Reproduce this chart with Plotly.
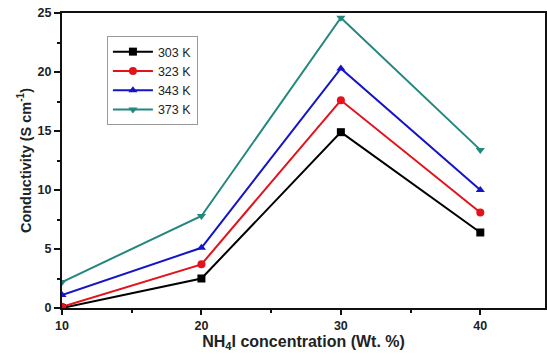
import plotly.graph_objects as go

conc = [10, 20, 30, 40]
s303 = [0.0, 2.5, 14.9, 6.4]
s323 = [0.1, 3.7, 17.6, 8.1]
s343 = [1.1, 5.1, 20.3, 10.0]
s373 = [2.2, 7.8, 24.6, 13.4]

series = [
    ("303 K", s303, "#000000", "square"),
    ("323 K", s323, "#e3121b", "circle"),
    ("343 K", s343, "#1414c8", "triangle-up"),
    ("373 K", s373, "#23877e", "triangle-down"),
]

fig = go.Figure()
for name, vals, col, sym in series:
    fig.add_trace(go.Scatter(
        x=conc, y=vals, name=name, mode="lines+markers",
        line=dict(color=col, width=2),
        marker=dict(symbol=sym, size=8, color=col),
    ))

fnt = "Liberation Sans, Arial, sans-serif"
fig.update_layout(
    width=547, height=354,
    margin=dict(l=62, r=0, t=13, b=46),
    paper_bgcolor="white", plot_bgcolor="white",
    font=dict(family=fnt, color="#222222"),
    showlegend=True,
    legend=dict(
        x=0.093, y=0.922, xanchor="left", yanchor="top",
        bgcolor="white", bordercolor="#999999", borderwidth=1,
        font=dict(size=12.5, family=fnt, color="#222222"),
        tracegroupgap=0, itemwidth=40,
    ),
    xaxis=dict(
        range=[10, 44.64], tickvals=[10, 20, 30, 40],
        showline=True, linecolor="#111111", linewidth=2, mirror=True,
        ticks="outside", ticklen=5, tickwidth=2, tickcolor="#111111",
        minor=dict(tickvals=[15, 25, 35], ticks="outside", ticklen=3, tickwidth=2, tickcolor="#111111"),
        showgrid=False, zeroline=False,
        tickfont=dict(size=12.5, family=fnt, weight="bold", color="#222222"),
        title=dict(text="NH<sub>4</sub>I concentration (Wt. %)", standoff=3,
                   font=dict(size=16, family=fnt, weight="bold", color="#222222")),
    ),
    yaxis=dict(
        range=[0, 25], tickvals=[0, 5, 10, 15, 20, 25],
        showline=True, linecolor="#111111", linewidth=2, mirror=True,
        ticks="outside", ticklen=6, tickwidth=2, tickcolor="#111111",
        minor=dict(tickvals=[2.5, 7.5, 12.5, 17.5, 22.5], ticks="outside", ticklen=3, tickwidth=2, tickcolor="#111111"),
        showgrid=False, zeroline=False,
        tickfont=dict(size=12.5, family=fnt, weight="bold", color="#222222"),
        title=dict(text="Conductivity (S cm<sup>-1</sup>)", standoff=3,
                   font=dict(size=14.5, family=fnt, weight="bold", color="#222222")),
    ),
)

fig.write_html("out.html")
